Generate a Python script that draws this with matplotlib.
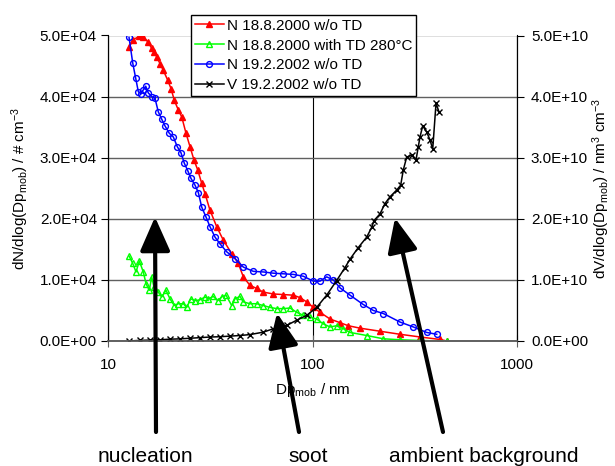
import numpy as np
import matplotlib.pyplot as plt
from matplotlib.ticker import FixedLocator, FuncFormatter, NullLocator
from matplotlib.patches import ArrowStyle

plt.rcParams['font.family'] = ['Liberation Sans', 'DejaVu Sans']
plt.rcParams['font.size'] = 11
plt.rcParams['mathtext.fontset'] = 'custom'
plt.rcParams['mathtext.rm'] = 'Liberation Sans'
plt.rcParams['mathtext.it'] = 'Liberation Sans'

# N 18.8.2000 w/o TD
d_red = [12.67, 13.30, 14.23, 14.88, 15.64, 16.36, 16.84, 17.30, 17.96, 18.64,
         19.58, 20.33, 21.10, 22.07, 22.93, 24.07, 25.18, 26.34, 27.46, 28.73,
         29.82, 31.54, 34.01, 36.64, 40.27, 43.38, 45.88, 49.48, 53.35, 57.46,
         64.33, 71.98, 80.55, 86.87, 93.68, 100.9, 108.8, 121.8, 136.3, 149.7,
         170.8, 213.8, 267.9, 335.5, 420.2, 453.3]
n_red = [48100, 49300, 49900, 49700, 49000, 47900, 47300, 46500, 45400, 44300,
         42700, 41300, 39400, 37800, 36700, 34000, 31800, 29600, 28000, 25800,
         24100, 21400, 18700, 16500, 14300, 12700, 10500, 9100, 8600, 8000,
         7700, 7600, 7500, 7100, 6400, 5500, 4700, 3600, 3000, 2500,
         2100, 1600, 1100, 660, 250, 0]

# N 18.8.2000 with TD 280°C
d_green = [12.71, 13.21, 13.71, 14.23, 14.88, 15.34, 15.92, 16.36, 16.79, 17.62,
           18.31, 19.21, 20.10, 21.10, 22.07, 23.35, 24.26, 25.38, 26.64, 28.18,
           29.82, 30.94, 32.73, 34.39, 35.97, 37.76, 40.27, 41.78, 44.21, 45.88,
           49.48, 53.35, 57.46, 61.97, 66.81, 71.98, 77.62, 83.69, 90.16, 97.23,
           104.8, 112.9, 121.8, 131.3, 141.5, 152.6, 184.1, 221.9, 267.9, 335.5,
           453.3]
n_green = [13850, 12700, 11300, 13100, 11300, 9400, 8300, 10500, 8800, 8000,
           7200, 8300, 6900, 5800, 6100, 6100, 5500, 6900, 6600, 6750,
           7200, 6900, 7300, 6600, 7200, 7500, 5800, 6900, 7300, 6400,
           6100, 6100, 5800, 5500, 5300, 5300, 5400, 4700, 4200, 3900,
           3600, 2800, 2300, 2500, 2000, 1400, 900, 360, 200, 80,
           0]

# N 19.2.2002 w/o TD
d_blue = [12.67, 13.21, 13.66, 14.07, 14.45, 14.88, 15.29, 15.74, 16.36, 16.98,
          17.62, 18.31, 19.00, 19.94, 20.86, 21.82, 22.75, 23.61, 24.53, 25.46,
          26.64, 27.65, 28.73, 30.15, 31.54, 33.37, 35.29, 38.06, 41.78, 45.88,
          51.35, 57.46, 64.33, 71.98, 80.55, 90.16, 100.9, 108.8, 117.3, 126.4,
          136.3, 152.6, 176.6, 198.3, 221.9, 267.9, 311.1, 361.8, 405.0]
n_blue = [49700, 45500, 43000, 40800, 40500, 41100, 41700, 40600, 40000, 39700,
          37500, 36300, 35200, 34000, 33400, 31800, 30800, 29100, 27900, 26600,
          25500, 24300, 21900, 20300, 18700, 17000, 15900, 14600, 13500, 12100,
          11400, 11300, 11100, 11000, 10900, 10600, 9800, 9800, 10500, 10000,
          8700, 7500, 6000, 5000, 4500, 3100, 2300, 1400, 1100]

# V 19.2.2002 w/o TD  (in 1E+10 nm^3 cm^-3)
d_black = [12.67, 14.34, 16.05, 17.96, 20.10, 22.49, 25.18, 28.18, 31.54, 35.29,
           39.51, 44.21, 49.48, 57.46, 64.33, 74.78, 83.69, 93.68, 104.8, 117.3,
           131.3, 144.1, 152.6, 167.5, 184.1, 194.8, 199.8, 213.8, 226.2, 239.3,
           258.0, 269.9, 278.0, 288.8, 305.5, 320.7, 329.1, 335.5, 345.8, 361.8,
           375.5, 387.1, 401.8, 415.5]
v_black = [0.00, 0.01, 0.015, 0.02, 0.03, 0.035, 0.045, 0.055, 0.065, 0.07,
           0.08, 0.09, 0.105, 0.145, 0.20, 0.255, 0.34, 0.42, 0.55, 0.75,
           0.99, 1.20, 1.34, 1.53, 1.70, 1.86, 1.97, 2.08, 2.25, 2.36,
           2.47, 2.55, 2.80, 3.01, 3.04, 2.96, 3.18, 3.34, 3.52, 3.42,
           3.29, 3.14, 3.89, 3.75]

labels = ['N 18.8.2000 w/o TD', 'N 18.8.2000 with TD 280°C',
          'N 19.2.2002 w/o TD', 'V 19.2.2002 w/o TD']

W, H = 615, 466
fig = plt.figure(figsize=(W / 100, H / 100), dpi=100)
ax = fig.add_axes([108 / W, 1 - 341 / H, 409 / W, 305.5 / H])
ax2 = ax.twinx()

l1, = ax.plot(d_red, n_red, color='#ff0000', lw=1.1, marker='^', ms=4.5,
              mec='#ff0000', mfc='#ff0000', label=labels[0])
l2, = ax.plot(d_green, n_green, color='#00ff00', lw=1.1, marker='^', ms=4.5,
              mec='#00ff00', mfc='none', label=labels[1])
l3, = ax.plot(d_blue, n_blue, color='#0000ff', lw=1.1, marker='o', ms=4.2,
              mec='#0000ff', mfc='none', label=labels[2])
l4, = ax2.plot(d_black, np.array(v_black) * 1e10, color='k', lw=1.1,
               marker='x', ms=4.5, label=labels[3])

fmt = FuncFormatter(lambda v, p: f'{v:.1E}')
ax.set_xscale('log')
ax.set_xlim(10, 1000)
ax.set_ylim(0, 5e4)
ax2.set_ylim(0, 5e10)
ax.xaxis.set_major_locator(FixedLocator([10, 100, 1000]))
ax.xaxis.set_minor_locator(NullLocator())
ax.xaxis.set_major_formatter(FuncFormatter(lambda v, p: f'{v:g}'))
ax.yaxis.set_major_locator(FixedLocator(np.arange(0, 5.01e4, 1e4)))
ax2.yaxis.set_major_locator(FixedLocator(np.arange(0, 5.01e10, 1e10)))
ax.yaxis.set_major_formatter(fmt)
ax2.yaxis.set_major_formatter(fmt)

ax.grid(axis='y', color='#606060', lw=1)
ax.grid(axis='x', color='k', lw=0.8)
ax.set_axisbelow(True)

for a in (ax, ax2):
    a.spines['top'].set_visible(False)
    a.spines['bottom'].set_color('#606060')
    a.spines['bottom'].set_linewidth(1.2)
    a.spines['left'].set_color('k')
    a.spines['right'].set_color('k')
    a.set_facecolor('none')
ax.tick_params(axis='y', direction='out', length=5, pad=3, labelsize=11)
ax2.tick_params(axis='y', direction='out', length=5, pad=5, labelsize=11)
ax.tick_params(axis='x', direction='inout', length=9, color='#606060',
               pad=8, labelsize=11)

ax.set_xlabel('Dp$_{\\mathrm{mob}}$ / nm', fontsize=11, labelpad=6)
ax.set_ylabel('dN/dlog(Dp$_{\\mathrm{mob}}$) / # cm$^{-3}$', fontsize=11, labelpad=6)
ax2.set_ylabel('dV/dlog(Dp$_{\\mathrm{mob}}$) / nm$^{3}$ cm$^{-3}$', fontsize=11,
               labelpad=2, rotation=90)

leg = ax2.legend(handles=[l1, l2, l3, l4], loc='upper left',
                 bbox_to_anchor=(191 / W, 1 - 15 / H), bbox_transform=fig.transFigure,
                 fontsize=11, frameon=True, fancybox=False, framealpha=1,
                 edgecolor='k', borderpad=0.25, labelspacing=0.38,
                 handlelength=1.9, handletextpad=0.2, borderaxespad=0)
leg.get_frame().set_linewidth(1)

# arrows (tip, tail) in figure pixels
arrow = ArrowStyle('-|>', head_length=0.95, head_width=0.42)
arrows = [((155, H - 217), (156, H - 432)),
          ((277, H - 313), (299, H - 432)),
          ((395, H - 218), (443, H - 432))]
for tip, tail in arrows:
    ax2.annotate('', xy=tip, xytext=tail, xycoords='figure pixels',
                 textcoords='figure pixels',
                 arrowprops=dict(arrowstyle=arrow, lw=3, color='k',
                                 mutation_scale=22, shrinkA=0, shrinkB=0))

for txt, x in [('nucleation', 145), ('soot', 308), ('ambient background', 484)]:
    fig.text(x / W, 4 / H, txt, ha='center', va='baseline', fontsize=15)

fig.savefig('out.png', dpi=100)
